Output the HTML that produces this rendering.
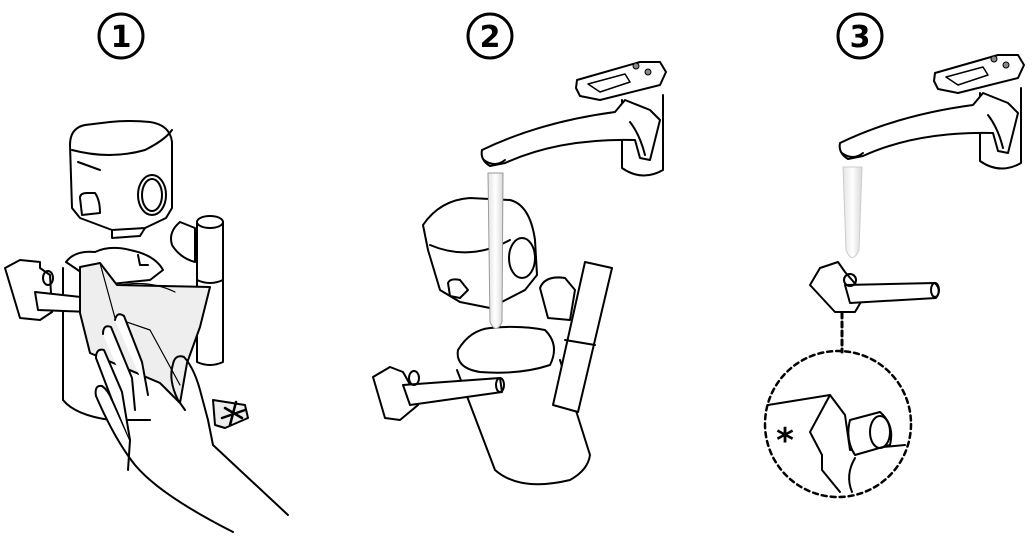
<!DOCTYPE html>
<html><head><style>
html,body{margin:0;padding:0;background:#fff;}
svg{display:block;}
text{font-family:"DejaVu Sans","Liberation Sans",sans-serif;font-weight:bold;}
</style></head><body>
<svg width="1034" height="544" viewBox="0 0 1034 544" xmlns="http://www.w3.org/2000/svg" fill="none" stroke="#000" stroke-width="2" stroke-linejoin="round" stroke-linecap="round">
<defs>
<linearGradient id="w" x1="0" x2="1"><stop offset="0" stop-color="#e4e4e4"/><stop offset="0.5" stop-color="#fff"/><stop offset="1" stop-color="#d8d8d8"/></linearGradient>
<g id="faucet">
  <path d="M622,100 L622,168 Q642,182 663,170 L663,95" fill="#fff"/>
  <path d="M482,150 Q540,122 615,112 L625,100 L650,110 L660,120 L650,160 L640,158 L635,140 Q560,138 505,163 L490,166 Q480,160 482,150 Z" fill="#fff"/>
  <path d="M484,160 Q495,168 505,160"/>
  <path d="M630,122 Q640,135 645,155"/>
  <path d="M577,80 L640,62 L660,62 L666,72 L660,85 L600,100 L580,96 L576,88 Z" fill="#fff"/>
  <path d="M588,84 L625,74 L630,82 L600,92 Z" stroke-width="1.5"/>
  <circle cx="636" cy="66" r="3" fill="#888" stroke-width="1"/>
  <circle cx="648" cy="72" r="3" fill="#888" stroke-width="1"/>
</g>
</defs>

<!-- numbers -->
<circle cx="121" cy="36" r="22" stroke-width="3"/>
<text x="121" y="47" font-size="30" text-anchor="middle" fill="#000" stroke="none">1</text>
<circle cx="490" cy="36" r="22" stroke-width="3"/>
<text x="490" y="47" font-size="30" text-anchor="middle" fill="#000" stroke="none">2</text>
<circle cx="860" cy="36" r="22" stroke-width="3"/>
<text x="860" y="47" font-size="30" text-anchor="middle" fill="#000" stroke="none">3</text>

<!-- PANEL 1 -->
<path d="M70,145 Q70,128 85,125 L110,122 Q130,120 150,122 Q170,125 172,142 L172,208 L166,218 L145,228 L112,230 L80,218 L72,208 Z" fill="#fff"/>
<path d="M72,150 Q110,160 145,150 Q165,140 172,130"/>
<path d="M78,162 L100,170"/>
<ellipse cx="152" cy="195" rx="14" ry="20"/>
<ellipse cx="152" cy="195" rx="10" ry="16"/>
<path d="M80,198 Q80,193 87,193 L95,193 Q100,200 100,213 L82,215 Z"/>
<path d="M112,230 L112,238 L140,236 L145,228"/>
<!-- post -->
<path d="M197,222 L197,362 Q210,368 223,362 L223,222" fill="#fff"/>
<ellipse cx="210" cy="222" rx="13" ry="6" fill="#fff"/>
<path d="M197,280 Q210,286 223,280"/>
<path d="M180,222 Q168,232 172,245 Q180,258 195,262 L195,228 Z" fill="#fff"/>
<!-- body -->
<path d="M63,268 L63,400 Q75,415 110,420 L150,420" fill="#fff"/>
<path d="M66,262 Q75,250 95,252 Q110,245 130,250 Q155,255 163,270 L150,280 L100,285 Z" fill="#fff"/>
<path d="M138,255 L140,265 L148,265"/>
<!-- connector -->
<path d="M5,268 L20,260 L40,262 L40,268 L50,275 L52,312 L40,320 L20,318 Z" fill="#fff"/>
<path d="M35,292 L90,298 L90,312 L38,310 Z" fill="#fff"/>
<ellipse cx="48" cy="278" rx="5" ry="7"/>
<!-- cloth -->
<path d="M80,267 L100,263 L117,285 L210,287 L200,327 L187,363 L180,403 L160,383 L90,353 L80,313 Z" fill="#eee"/>
<path d="M100,263 L115,318 L150,330 L180,385" stroke-width="1.2"/>
<path d="M122,285 Q150,280 175,292" stroke-width="1.2"/>
<!-- hand -->
<path d="M96,396 Q94,385 102,386 Q108,390 112,400 L130,440 L128,470" fill="#fff"/>
<path d="M96,396 Q115,440 135,465 Q160,495 233,532"/>
<path d="M96,358 Q96,348 104,350 L122,392 L130,440" fill="#fff"/>
<path d="M103,334 Q103,324 111,327 L132,378 L135,410" fill="#fff"/>
<path d="M115,320 Q117,311 124,316 L142,362 L148,395" fill="#fff"/>
<path d="M96,358 L112,400"/>
<path d="M173,364 Q175,354 184,357 Q194,368 200,390 L208,420 L213,445 L288,515"/>
<path d="M173,364 Q168,380 178,400 L185,410"/>
<path d="M213,400 L245,405 L248,418 L225,428 L215,425 Z" fill="#eee"/>
<path d="M225,408 L242,418 M236,402 L230,425 M222,418 L245,410" stroke-width="2.5"/>

<!-- PANEL 2 -->
<use href="#faucet"/>
<!-- tilted cap -->
<path d="M423,225 Q440,200 470,198 L510,200 Q530,205 535,240 L537,275 L525,290 L490,308 L460,302 L440,290 L428,250 Z" fill="#fff"/>
<path d="M430,245 Q470,262 510,240"/>
<ellipse cx="522" cy="258" rx="13" ry="20"/>
<path d="M448,283 Q450,278 460,280 L468,290 L460,298 L450,296 Z"/>
<!-- tilted body -->
<path d="M457,370 L495,470 Q520,492 570,480 Q588,470 590,455 L560,360" fill="#fff"/>
<path d="M458,350 Q470,330 490,328 Q520,325 545,330 Q560,345 550,365 Q520,375 480,372 Q455,368 458,350 Z" fill="#fff"/>
<!-- post -->
<path d="M585,262 L612,268 L578,412 L553,405 Z" fill="#fff"/>
<path d="M565,340 L595,345"/>
<path d="M540,288 Q545,275 565,278 L575,290 L570,320 L548,318 Z" fill="#fff"/>
<!-- connector -->
<path d="M373,377 L390,367 L403,372 L412,388 L418,405 L400,420 L385,418 Z" fill="#fff"/>
<path d="M403,385 L500,378 L502,392 L410,405 Z" fill="#fff"/>
<ellipse cx="500" cy="385" rx="4" ry="7"/>
<ellipse cx="414" cy="378" rx="5" ry="7"/>
<!-- water -->
<path d="M488,173 L503,173 L502,322 Q496,335 490,322 Z" fill="url(#w)" stroke="#999" stroke-width="1"/>

<!-- PANEL 3 -->
<use href="#faucet" transform="translate(358,-7)"/>
<path d="M843,167 L862,167 L859,250 Q852,265 846,250 Z" fill="url(#w)" stroke="#ccc" stroke-width="1"/>
<path d="M810,285 L820,268 L838,262 L845,272 L865,295 L855,312 L835,312 Z" fill="#fff"/>
<path d="M845,285 L935,283 Q942,290 936,298 L850,303 Z" fill="#fff"/>
<ellipse cx="935" cy="290" rx="4" ry="7"/>
<ellipse cx="850" cy="280" rx="6" ry="6"/>
<path d="M842,313 L842,352" stroke-dasharray="5,4" stroke-width="3"/>
<circle cx="838" cy="424" r="73" stroke-dasharray="5,4" stroke-width="2.5"/>
<path d="M768,405 L830,395 L845,415 L850,450 L905,445"/>
<path d="M830,395 L810,432 L822,455 L822,470 L840,492"/>
<path d="M850,420 L880,412 Q895,425 890,445 L855,455 Q845,440 850,420 Z" fill="#fff"/>
<ellipse cx="880" cy="432" rx="10" ry="16"/>
<path d="M855,458 Q845,475 852,492"/>
<text x="785" y="452" font-size="34" text-anchor="middle" fill="#000" stroke="none">*</text>
</svg>
</body></html>
